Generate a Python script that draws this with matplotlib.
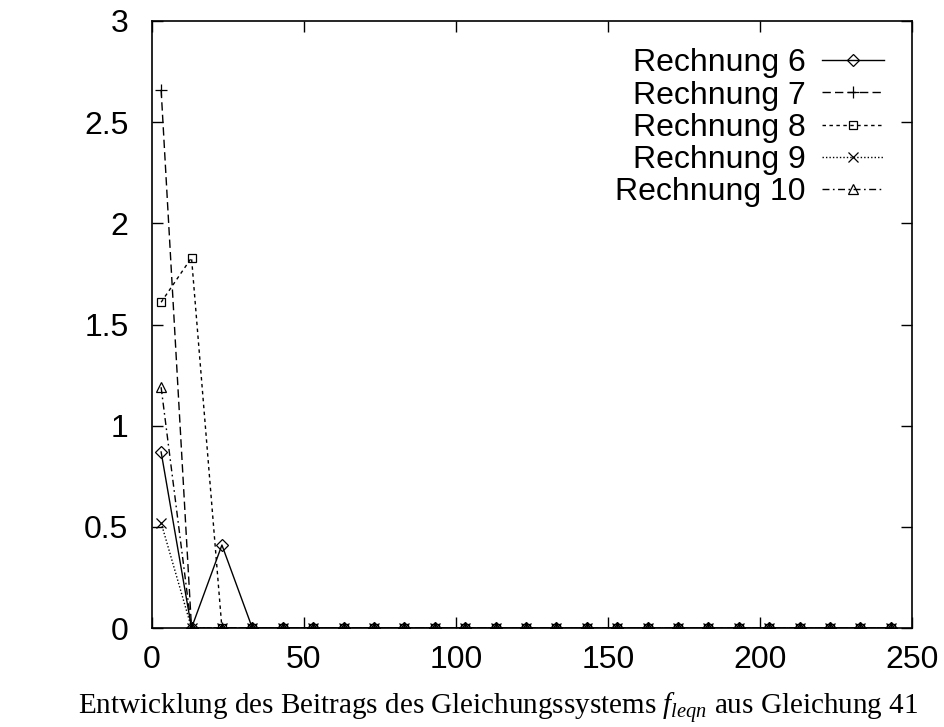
import matplotlib
matplotlib.use("Agg")
import matplotlib.pyplot as plt
from matplotlib.ticker import FuncFormatter

plt.rcParams["font.family"] = ["Liberation Sans", "DejaVu Sans"]
plt.rcParams["mathtext.fontset"] = "custom"
plt.rcParams["mathtext.rm"] = "Liberation Serif"
plt.rcParams["mathtext.it"] = "Liberation Serif:italic"

# x positions (steps) and series values
steps = [3, 13, 23, 33, 43, 53, 63, 73, 83, 93, 103, 113, 123,
         133, 143, 153, 163, 173, 183, 193, 203, 213, 223, 233, 243]
zeros = [0.0] * 22
r6 = [0.87, 0.0, 0.41] + zeros
r7 = [2.66, 0.0, 0.0] + zeros
r8 = [1.61, 1.83, 0.0] + zeros
r9 = [0.52, 0.0, 0.0] + zeros
r10 = [1.19, 0.0, 0.0] + zeros

labels = ["Rechnung 6", "Rechnung 7", "Rechnung 8", "Rechnung 9", "Rechnung 10"]
xticks = [0, 50, 100, 150, 200, 250]
yticks = [0, 0.5, 1, 1.5, 2, 2.5, 3]

fig = plt.figure(figsize=(9.45, 7.27), dpi=100)
ax = fig.add_axes([152 / 945, 1 - 628 / 727, 760 / 945, 607 / 727])

# -----------------------------
# series
# -----------------------------
ms = 7
ax.plot(steps, r6, "-", color="black", lw=1, marker="D", ms=6.5,
        mfc="none", mew=0.9, label=labels[0])
ax.plot(steps, r7, color="black", lw=1, ls=(0, (6, 3)), marker="+", ms=ms + 1,
        mew=0.9, label=labels[1])
ax.plot(steps, r8, color="black", lw=1, ls=(0, (2.5, 2.5)), marker="s", ms=ms - 1,
        mfc="none", mew=0.9, label=labels[2])
ax.plot(steps, r9, color="black", lw=1, ls=(0, (1, 1.5)), marker="x", ms=ms,
        mew=0.9, label=labels[3])
ax.plot(steps, r10, color="black", lw=1, ls=(0, (5, 2.5, 1.2, 2.5)), marker="^",
        ms=ms, mfc="none", mew=0.9, label=labels[4])

ax.set_xlim(0, 250)
ax.set_ylim(0, 3)
ax.set_xticks(xticks)
ax.set_yticks(yticks)
ax.yaxis.set_major_formatter(FuncFormatter(lambda v, p: "%g" % v))
ax.tick_params(direction="in", length=8, width=1, top=True, right=True,
               labelsize=23)
ax.tick_params(axis="y", pad=17)
ax.tick_params(axis="x", pad=12)
for s in ax.spines.values():
    s.set_linewidth(1.2)

ax.legend(loc="upper right", bbox_to_anchor=(0.963, 0.955), frameon=False,
          markerfirst=False, fontsize=23, handlelength=1.95,
          handletextpad=0.5, labelspacing=0.07, borderpad=0,
          borderaxespad=0)

ax.set_xlabel("Entwicklung des Beitrags des Gleichungssystems $f_{leqn}$ aus Gleichung 41",
              family="Liberation Serif", fontsize=21)
ax.xaxis.set_label_coords(0.455, -0.103)

fig.savefig("out.png", dpi=100)
